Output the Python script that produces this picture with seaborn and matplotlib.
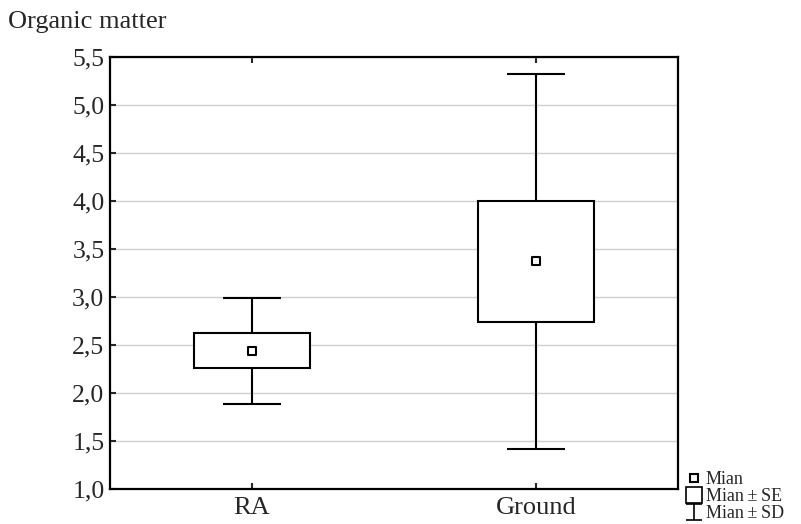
import matplotlib
matplotlib.use("Agg")
import matplotlib.pyplot as plt
import seaborn as sns
import numpy as np
import pandas as pd
from matplotlib.lines import Line2D
from matplotlib.path import Path

categories = ["RA", "Ground"]
means = [2.44, 3.37]
se = [0.18, 0.63]
sd = [0.55, 1.95]
yticks = [1.0, 1.5, 2.0, 2.5, 3.0, 3.5, 4.0, 4.5, 5.0, 5.5]
ylabels = ["1,0", "1,5", "2,0", "2,5", "3,0", "3,5", "4,0", "4,5", "5,0", "5,5"]

sns.set_style("white")
plt.rcParams["font.family"] = ["Liberation Serif", "DejaVu Serif"]

df = pd.DataFrame({"cat": categories, "mean": means, "se": se, "sd": sd})

fig = plt.figure(figsize=(8.01, 5.24), dpi=100)
ax = fig.add_axes([110/801, 1 - 489/524, (678-110)/801, (489-57)/524])

pos = np.arange(len(categories))
# SD whiskers
ax.errorbar(pos, df["mean"], yerr=df["sd"], fmt="none", ecolor="black",
            elinewidth=1.5, capsize=21, capthick=1.5, zorder=2)
# SE boxes
ax.bar(pos, 2*df["se"], bottom=df["mean"]-df["se"], width=0.405,
       facecolor="white", edgecolor="black", linewidth=1.5, zorder=3)
# mean markers
sns.scatterplot(data=df, x="cat", y="mean", marker="s", s=30, color="white",
                edgecolor="black", linewidth=1.5, zorder=4, ax=ax, legend=False)

ax.set_xlim(-0.5, 1.5)
ax.set_ylim(1.0, 5.5)
ax.set_xticks(pos)
ax.set_xticklabels(categories, fontsize=19)
ax.set_yticks(yticks)
ax.set_yticklabels(ylabels, fontsize=18.5)
ax.set_xlabel("")
ax.set_ylabel("")
ax.yaxis.grid(True, color="#d0d0d0", linewidth=1.0)
ax.set_axisbelow(True)
for s in ax.spines.values():
    s.set_color("black")
    s.set_linewidth(1.6)
ax.tick_params(axis="y", direction="in", length=4, width=1.5, left=True, right=False, pad=4)
ax.tick_params(axis="x", direction="in", length=4, width=1.5, bottom=True, top=True, pad=6)

fig.text(8/801, 1 - 28/524, "Organic matter", fontsize=19, ha="left", va="baseline")

sd_marker = Path([(-1, 1), (1, 1), (0, 1), (0, -1), (-1, -1), (1, -1)],
                 [Path.MOVETO, Path.LINETO, Path.MOVETO, Path.LINETO, Path.MOVETO, Path.LINETO])
handles = [
    Line2D([], [], marker="s", ms=6, mfc="white", mec="black", mew=1.5, ls="none"),
    Line2D([], [], marker="s", ms=12, mfc="white", mec="black", mew=1.2, ls="none"),
    Line2D([], [], marker=sd_marker, ms=12, mfc="none", mec="black", mew=1.2, ls="none"),
]
labels = ["Mian", "Mian\u2009\u00b1\u2009SE", "Mian\u2009\u00b1\u2009SD"]
fig.legend(handles, labels, loc="lower left", bbox_to_anchor=(686/801, 2/524),
           fontsize=13, frameon=False, handlelength=0.9, handletextpad=0.2,
           labelspacing=0.0, borderpad=0, borderaxespad=0)

fig.savefig("out.png", dpi=100)
